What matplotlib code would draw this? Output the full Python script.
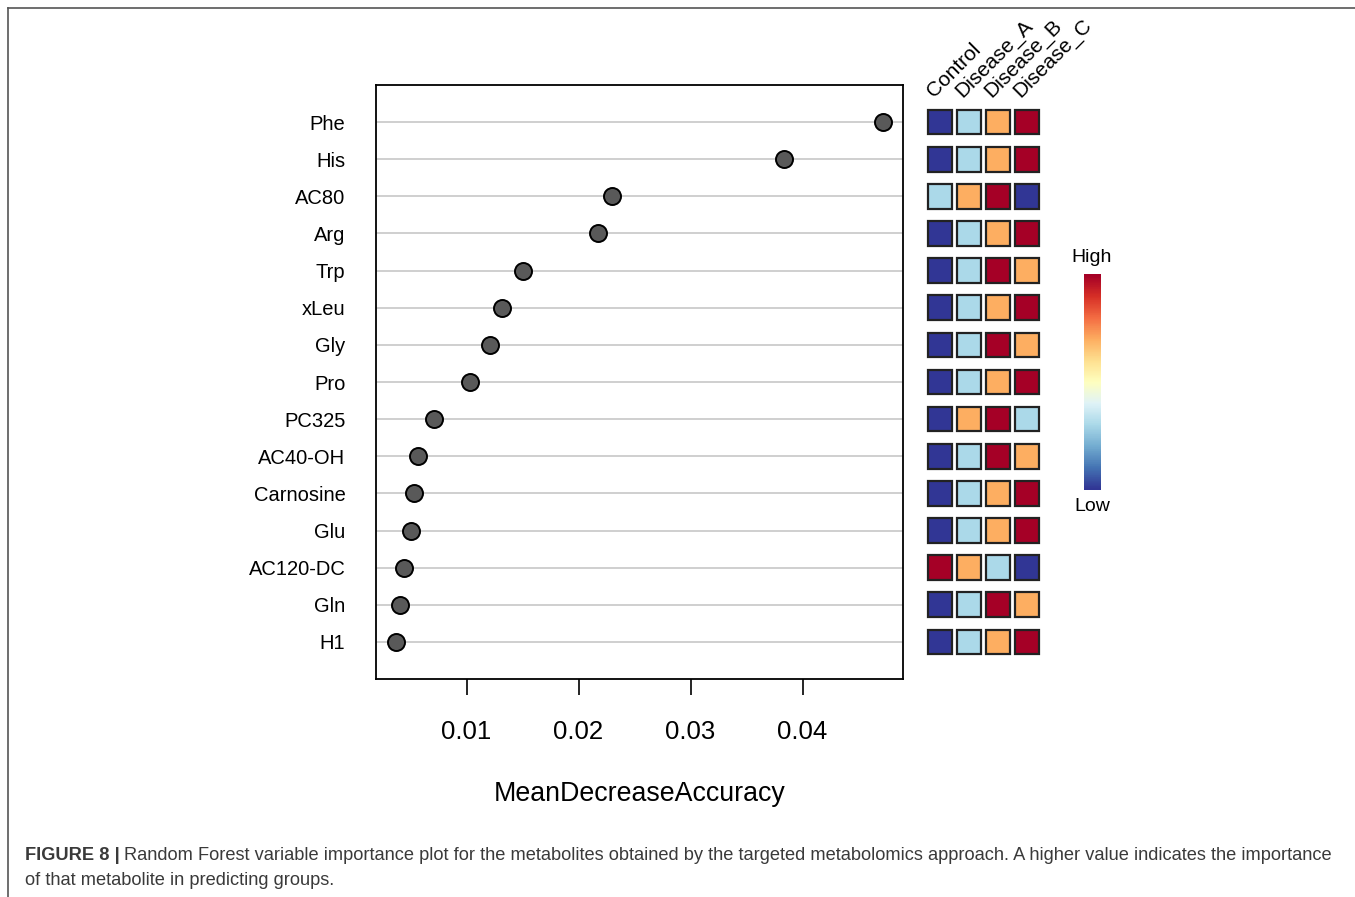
import numpy as np
import matplotlib
matplotlib.use("Agg")
import matplotlib.pyplot as plt
from matplotlib.patches import Rectangle
from matplotlib.colors import ListedColormap
from matplotlib.lines import Line2D

plt.rcParams["font.family"] = ["Liberation Sans", "DejaVu Sans"]

# Data
metabolites = ["Phe", "His", "AC80", "Arg", "Trp", "xLeu", "Gly", "Pro",
               "PC325", "AC40-OH", "Carnosine", "Glu", "AC120-DC", "Gln", "H1"]
mda = [0.04723, 0.03839, 0.02295, 0.02170, 0.01500, 0.01313, 0.01214, 0.01027,
       0.00714, 0.00571, 0.00527, 0.00500, 0.00446, 0.00402, 0.00366]
groups = ["Control", "Disease_A", "Disease_B", "Disease_C"]
# relative level per group (0 = low ... 3 = high)
levels = [
    [0, 1, 2, 3],
    [0, 1, 2, 3],
    [1, 2, 3, 0],
    [0, 1, 2, 3],
    [0, 1, 3, 2],
    [0, 1, 2, 3],
    [0, 1, 3, 2],
    [0, 1, 2, 3],
    [0, 2, 3, 1],
    [0, 1, 3, 2],
    [0, 1, 2, 3],
    [0, 1, 2, 3],
    [3, 2, 1, 0],
    [0, 1, 3, 2],
    [0, 1, 2, 3],
]
xticks = [0.01, 0.02, 0.03, 0.04]

W, H = 1355, 897
fig = plt.figure(figsize=(W / 100, H / 100), dpi=100)

def px_axes(x0, y0, x1, y1):
    return fig.add_axes([x0 / W, 1 - y1 / H, (x1 - x0) / W, (y1 - y0) / H])

# figure frame (top and left lines)
fig.add_artist(Line2D([8 / W, 8 / W], [0, 1 - 8 / H], transform=fig.transFigure,
                      color="#555555", lw=1.2))
fig.add_artist(Line2D([8 / W, 1], [1 - 8 / H, 1 - 8 / H], transform=fig.transFigure,
                      color="#555555", lw=1.2))

# Dot chart
n = len(metabolites)
ypos = np.arange(n, 0, -1)
ax = px_axes(376, 85, 903, 679)
for y in ypos:
    ax.axhline(y, color="#CCCCCC", lw=1.3, zorder=1)
ax.scatter(mda, ypos, s=150, facecolor="#595959", edgecolor="black",
           linewidth=1.4, zorder=3)
lo, hi = min(mda), max(mda)
pad = 0.04 * (hi - lo)
ax.set_xlim(lo - pad, hi + pad)
ax.set_ylim(0, n + 1)
ax.set_yticks(ypos)
ax.set_yticklabels(metabolites, fontsize=14.5)
ax.tick_params(axis="y", length=0, pad=22)
ax.set_xticks(xticks)
ax.set_xticklabels([f"{t:.2f}" for t in xticks], fontsize=18.5)
ax.tick_params(axis="x", length=11.5, width=1.2, pad=18)
for s in ax.spines.values():
    s.set_linewidth(1.3)
ax.set_xlabel("MeanDecreaseAccuracy", fontsize=19.3, labelpad=27)

# Heatmap of group levels
cmap4 = ListedColormap(["#313695", "#ABD9E9", "#FDAE61", "#A50026"])
hax = px_axes(925.5, 85, 1041.5, 679)
hax.set_xlim(-0.5, len(groups) - 0.5)
hax.set_ylim(0, n + 1)
hax.axis("off")
sw, sh = 0.83, 0.66
for i, row in enumerate(levels):
    for j, v in enumerate(row):
        hax.add_patch(Rectangle((j - sw / 2, ypos[i] - sh / 2), sw, sh,
                                facecolor=cmap4(v), edgecolor="#222222", lw=1.6))
for j, g in enumerate(groups):
    hax.text(j - 0.12, n + 1 - 0.42, g, rotation=45, ha="left", va="bottom",
             rotation_mode="anchor", fontsize=15, clip_on=False)

# Colour key
cax = px_axes(1084, 274, 1101, 490)
grad = np.linspace(0, 1, 100).reshape(-1, 1)
cax.imshow(grad, cmap="RdYlBu_r", aspect="auto", origin="lower")
cax.axis("off")
fig.text(1092 / W, 1 - 257 / H, "High", ha="center", va="center", fontsize=14)
fig.text(1092 / W, 1 - 506 / H, "Low", ha="center", va="center", fontsize=14)

# Caption
cap_col = "#3a3a3a"
t1 = fig.text(25 / W, 1 - 855 / H, "FIGURE 8 |", fontsize=13.15, fontweight="bold",
              color=cap_col, va="center", ha="left")
fig.canvas.draw()
bb = t1.get_window_extent()
fig.text((bb.x1 + 4) / W, 1 - 855 / H,
         "Random Forest variable importance plot for the metabolites obtained by the "
         "targeted metabolomics approach. A higher value indicates the importance",
         fontsize=13.15, color=cap_col, va="center", ha="left")
fig.text(25 / W, 1 - 880 / H, "of that metabolite in predicting groups.",
         fontsize=13.15, color=cap_col, va="center", ha="left")

fig.savefig("out.png", dpi=100)
